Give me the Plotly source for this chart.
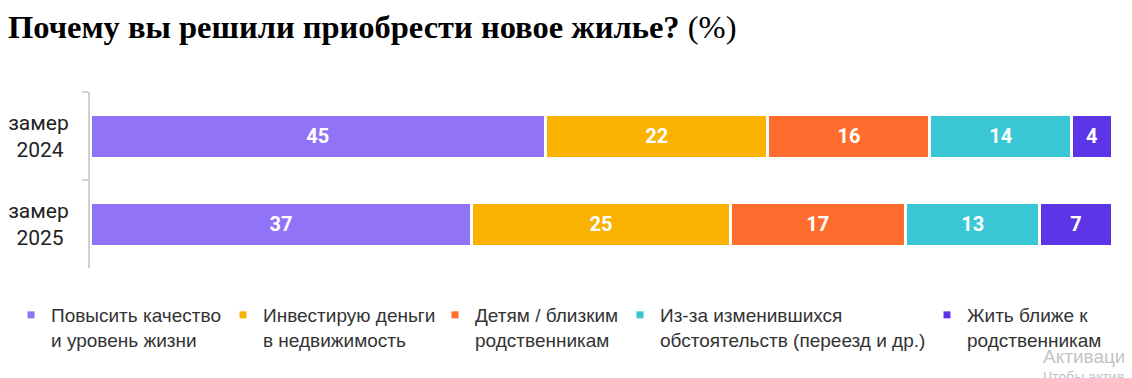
import plotly.graph_objects as go

rows = ["замер<br>2024\u00a0", "замер<br>2025\u00a0"]
series_names = [
    "Повысить качество<br>и уровень жизни",
    "Инвестирую деньги<br>в недвижимость",
    "Детям / близким<br>родственникам",
    "Из-за изменившихся<br>обстоятельств (переезд и др.)",
    "Жить ближе к<br>родственникам",
]
values_2024 = [45, 22, 16, 14, 4]
values_2025 = [37, 25, 17, 13, 7]
colors = ["#9073f7", "#f9b200", "#ff6d2e", "#39c7d4", "#5c36e6"]

# page body offset of 8px is compensated in margins
OFF = 8
W, H = 1132, 378
L, T = 90 - OFF, 92 - OFF
pw, ph = 1022, 176
R = W - L - pw
B = H - T - ph

legend_text_px = [51, 263, 475, 660, 967]

fig = go.Figure()
for i, name in enumerate(series_names):
    vals = [values_2024[i], values_2025[i]]
    fig.add_trace(go.Bar(
        y=rows, x=vals, orientation="h", name=name,
        marker=dict(color=colors[i], line=dict(color="white", width=3)),
        text=vals, texttemplate="%{text}", textposition="inside",
        insidetextanchor="middle",
        textfont=dict(family="Roboto", size=20, color="white", weight="bold"),
        showlegend=False, hoverinfo="skip",
    ))
for i, name in enumerate(series_names):
    lg = "legend" if i == 0 else f"legend{i+1}"
    fig.add_trace(go.Scatter(
        x=[None], y=[None], mode="markers", name=name,
        marker=dict(symbol="square", size=7, color=colors[i]),
        showlegend=True, legend=lg,
    ))

fig.update_layout(
    width=W, height=H,
    margin=dict(l=L, r=R, t=T, b=B, autoexpand=False),
    barmode="stack", barnorm="percent", bargap=0.5,
    plot_bgcolor="white", paper_bgcolor="white",
    title=dict(
        text="<b>Почему вы решили приобрести новое жилье?</b> (%)",
        font=dict(family="Liberation Serif", size=32.5, color="#000"),
        x=0, xanchor="left", xref="container",
        y=1 - 19 / H, yanchor="middle", yref="container",
    ),
    xaxis=dict(range=[0, 100], visible=False, fixedrange=True),
    yaxis=dict(
        autorange="reversed", showline=True, linecolor="#d0d0d0", linewidth=2,
        ticks="outside", tickson="boundaries", ticklen=6, tickcolor="#d0d0d0", tickwidth=2,
        tickfont=dict(family="Roboto", size=21, color="#222"),
        ticklabelstandoff=15, showgrid=False, zeroline=False, automargin=False,
    ),
)

for i in range(len(series_names)):
    key = "legend" if i == 0 else f"legend{i+1}"
    fig.update_layout({key: dict(
        x=(legend_text_px[i] - OFF - 40 - L) / pw, xanchor="left",
        y=-0.159, yanchor="top", orientation="h", valign="top",
        font=dict(family="Liberation Sans", size=19, color="#333"),
        bgcolor="rgba(0,0,0,0)", tracegroupgap=0,
    )})

fig.add_annotation(text="Активация Windows", xref="paper", yref="paper",
                   x=(1041 - OFF - L) / pw, y=-(356 - OFF - (T + ph)) / ph, xanchor="left", yanchor="middle",
                   showarrow=False, font=dict(family="Liberation Sans", size=19, color="#c4c4c4"))
fig.add_annotation(text="Чтобы активировать Windows", xref="paper", yref="paper",
                   x=(1041 - OFF - L) / pw, y=-(377 - OFF - (T + ph)) / ph, xanchor="left", yanchor="middle",
                   showarrow=False, font=dict(family="Liberation Sans", size=14, color="#c4c4c4"))

fig.write_html("out.html")
